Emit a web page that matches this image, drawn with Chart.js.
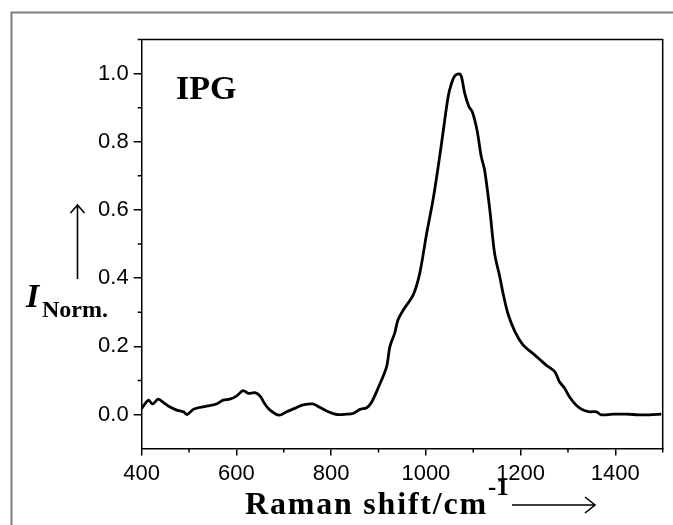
<!DOCTYPE html>
<html>
<head>
<meta charset="utf-8">
<script src="https://cdn.jsdelivr.net/npm/chart.js@4.4.1/dist/chart.umd.min.js"></script>
<style>
html, body { margin: 0; padding: 0; background: #fff; }
#wrap { width: 673px; height: 525px; }
</style>
</head>
<body>
<div id="wrap"><canvas id="ramanChart" width="673" height="525"></canvas></div>
<script>

// spectrum

let ramanShift = [400,414,423,435,446,456,474,488,496,509,523,540,558,572,586,600,614,625,639,650,
660,671,690,706,723,741,761,776,794,812,833,846,861,875,885,899,917,924,934,941,
952,973,987,1001,1015,1026,1036,1047,1054,1061,1070,1075,1082,1091,1098,1108,1117,1124,1135,1145,
1156,1163,1173,1188,1205,1226,1240,1254,1272,1282,1293,1303,1317,1332,1346,1360,1370,1395,1423,1451,
1472,1497];

let intensity = [0.018,0.042,0.031,0.045,0.035,0.025,0.013,0.008,0.000,0.015,0.021,0.025,0.031,0.042,0.045,0.054,0.070,0.062,0.064,0.054,
0.031,0.013,-0.002,0.008,0.018,0.028,0.031,0.021,0.008,0.000,0.001,0.003,0.015,0.020,0.035,0.077,0.140,0.199,0.238,0.277,
0.306,0.350,0.414,0.526,0.629,0.727,0.825,0.932,0.971,0.993,0.999,0.991,0.942,0.903,0.888,0.834,0.756,0.717,0.600,0.473,
0.404,0.355,0.297,0.243,0.204,0.179,0.162,0.145,0.126,0.096,0.077,0.052,0.028,0.013,0.008,0.008,-0.001,0.001,0.001,-0.001,
-0.001,0.001];

// tick labels

let xTicks = [400,600,800,1000,1200,1400];
let xMinorTicks = [500,700,900,1100,1300,1500];
let yTicks = [0.0,0.2,0.4,0.6,0.8,1.0];
let yMinorTicks = [0.1,0.3,0.5,0.7,0.9,1.1];

let points = ramanShift.map((x, i) => ({x: x, y: intensity[i]}));

// frame, box, minor ticks and texts

let extras = {
id: "extras",

beforeDraw(chart){
let ctx = chart.ctx;
ctx.save();
ctx.strokeStyle = "#808080";
ctx.lineWidth = 2;
ctx.beginPath();
ctx.moveTo(11.5, 525);
ctx.lineTo(11.5, 12.5);
ctx.lineTo(673, 12.5);
ctx.stroke();
ctx.restore();
},

afterDraw(chart){
let ctx = chart.ctx;
let a = chart.chartArea;
let xs = chart.scales.x;
let ys = chart.scales.y;

ctx.save();
ctx.strokeStyle = "#000";
ctx.lineWidth = 1.5;

// top and right border
ctx.beginPath();
ctx.moveTo(a.left, a.top);
ctx.lineTo(a.right, a.top);
ctx.lineTo(a.right, a.bottom);
ctx.stroke();

// minor ticks
ctx.beginPath();
xMinorTicks.forEach(v => {
let px = xs.getPixelForValue(v);
ctx.moveTo(px, a.bottom);
ctx.lineTo(px, a.bottom + 4);
});
yMinorTicks.forEach(v => {
let py = ys.getPixelForValue(v);
ctx.moveTo(a.left, py);
ctx.lineTo(a.left - 4, py);
});
ctx.stroke();

// panel label
ctx.fillStyle = "#000";
ctx.textBaseline = "alphabetic";
ctx.font = "bold 34px 'Liberation Serif'";
ctx.fillText("IPG", 176, 99);

// y title
ctx.font = "italic bold 34px 'Liberation Serif'";
ctx.fillText("I", 26, 307);
ctx.font = "bold 24px 'Liberation Serif'";
ctx.fillText("Norm.", 42, 317);

// up arrow
ctx.lineWidth = 1.6;
ctx.beginPath();
ctx.moveTo(77.5, 279);
ctx.lineTo(77.5, 205);
ctx.moveTo(70.5, 213);
ctx.lineTo(77.5, 205);
ctx.lineTo(84.5, 213);
ctx.stroke();

// x title
ctx.font = "bold 32px 'Liberation Serif'";
ctx.letterSpacing = "1.8px";
let t = "Raman shift/cm";
ctx.fillText(t, 245, 514);
let w = ctx.measureText(t).width;
ctx.letterSpacing = "0px";
ctx.font = "bold 25px 'Liberation Serif'";
ctx.fillText("-1", 245 + w, 495);

// right arrow
ctx.beginPath();
ctx.moveTo(512, 505);
ctx.lineTo(595, 505);
ctx.moveTo(585, 497);
ctx.lineTo(595, 505);
ctx.lineTo(585, 513);
ctx.stroke();

ctx.restore();
}
};

let chart = new Chart(document.getElementById("ramanChart"), {

type: "line",

data: {
datasets: [{
label: "IPG",
data: points,
borderColor: "#000",
borderWidth: 2.8,
pointRadius: 0,
tension: 0.3,
fill: false
}]
},

options: {
responsive: false,
animation: false,
layout: {
padding: {top: 39.5, right: 10.3, left: 0, bottom: 0}
},
plugins: {
legend: {display: false},
tooltip: {enabled: false}
},
scales: {
x: {
type: "linear",
min: 400,
max: 1500,
afterBuildTicks: s => { s.ticks = xTicks.map(v => ({value: v})); },
afterFit: s => { s.height = 76.4; },
border: {color: "#000", width: 1.5},
grid: {drawOnChartArea: false, color: "#000", lineWidth: 1.5, tickLength: 7},
ticks: {
color: "#000",
padding: 5,
maxRotation: 0,
font: {family: "'Liberation Sans'", size: 22},
callback: v => String(v)
}
},
y: {
type: "linear",
min: -0.1,
max: 1.1,
afterBuildTicks: s => { s.ticks = yTicks.map(v => ({value: v})); },
afterFit: s => { s.width = 141.7; },
border: {color: "#000", width: 1.5},
grid: {drawOnChartArea: false, color: "#000", lineWidth: 1.5, tickLength: 8},
ticks: {
color: "#000",
padding: 5,
font: {family: "'Liberation Sans'", size: 22},
callback: v => v.toFixed(1)
}
}
}
},

plugins: [extras]

});

</script>
</body>
</html>
